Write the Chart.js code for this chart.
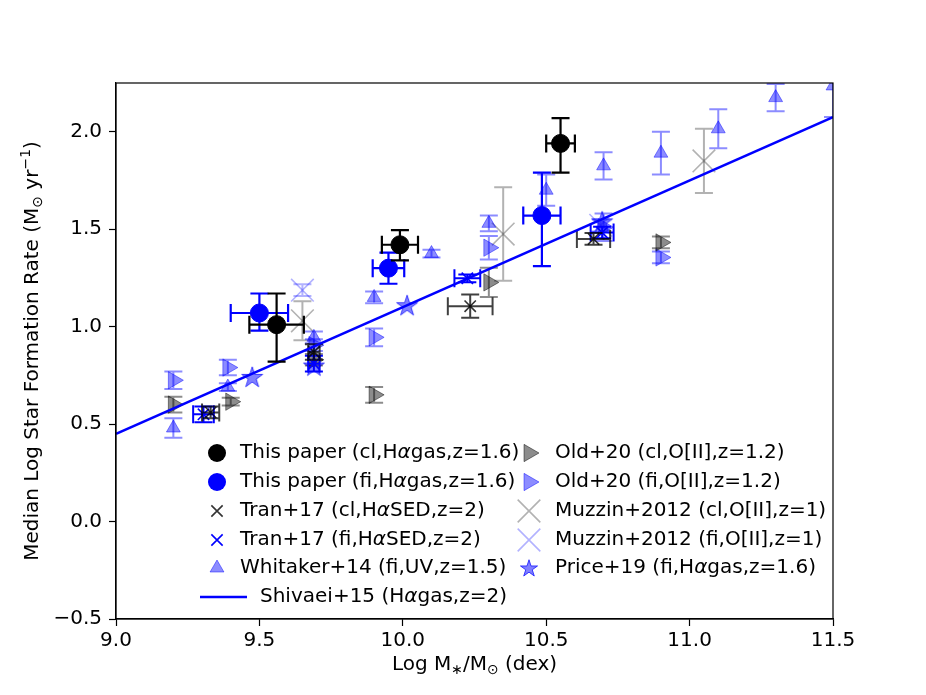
<!DOCTYPE html>
<html><head><meta charset="utf-8">
<script src="https://cdn.jsdelivr.net/npm/chart.js@4.4.1/dist/chart.umd.min.js"></script>
<style>html,body{margin:0;padding:0;background:#fff;overflow:hidden}</style>
</head><body>
<canvas id="c" width="926" height="695"></canvas>
<script>
// ---------------- data ----------------
const xTicks = [9.0, 9.5, 10.0, 10.5, 11.0, 11.5];
const yTicks = [-0.5, 0.0, 0.5, 1.0, 1.5, 2.0];

const paperClX = [9.56, 9.99, 10.55];
const paperClY = [1.01, 1.42, 1.94];
const paperClXErr = [0.095, 0.063, 0.05];
const paperClYErrLo = [0.19, 0.08, 0.15];
const paperClYErrHi = [0.16, 0.075, 0.13];

const paperFiX = [9.50, 9.95, 10.485];
const paperFiY = [1.07, 1.30, 1.57];
const paperFiXErr = [0.10, 0.055, 0.065];
const paperFiYErrLo = [0.09, 0.08, 0.26];
const paperFiYErrHi = [0.10, 0.08, 0.22];

const tranClX = [9.33, 9.69, 10.235, 10.665];
const tranClY = [0.56, 0.87, 1.105, 1.45];
const tranClXErr = [0.03, 0.02, 0.078, 0.058];
const tranClYErr = [0.03, 0.04, 0.06, 0.03];

const tranFiX = [9.305, 9.69, 10.225, 10.695];
const tranFiY = [0.55, 0.81, 1.248, 1.483];
const tranFiXErr = [0.036, 0.02, 0.045, 0.04];
const tranFiYErr = [0.04, 0.04, 0.02, 0.03];

const whitakerX = [9.2, 9.39, 9.69, 9.9, 10.1, 10.3, 10.5, 10.7, 10.9, 11.1, 11.3, 11.5];
const whitakerY = [0.48, 0.69, 0.945, 1.15, 1.375, 1.53, 1.70, 1.825, 1.89, 2.015, 2.175, 2.235];
const whitakerYErr = [0.05, 0.02, 0.03, 0.03, 0.02, 0.04, 0.08, 0.07, 0.11, 0.10, 0.07, 0.16];

const oldClX = [9.2, 9.4, 9.69, 9.9, 10.3, 10.9];
const oldClY = [0.60, 0.615, 0.83, 0.65, 1.227, 1.432];
const oldClYErr = [0.04, 0.02, 0.03, 0.04, 0.075, 0.03];

const oldFiX = [9.2, 9.39, 9.69, 9.9, 10.3, 10.7, 10.9];
const oldFiY = [0.725, 0.79, 0.905, 0.945, 1.405, 1.51, 1.355];
const oldFiYErr = [0.045, 0.04, 0.03, 0.045, 0.06, 0.07, 0.03];

const muzzinClX = [9.65, 10.35, 11.05];
const muzzinClY = [1.03, 1.475, 1.85];
const muzzinClYErr = [0.10, 0.24, 0.165];

const muzzinFiX = [9.65, 10.69];
const muzzinFiY = [1.187, 1.52];
const muzzinFiYErr = [0.03, 0.03];

const priceX = [9.475, 9.69, 10.015, 10.695];
const priceY = [0.742, 0.80, 1.11, 1.54];

const shivaeiX = [9.0, 11.5];
const shivaeiY = [0.45, 2.075];

const legendLeft = [
  'This paper (cl,Hαgas,z=1.6)',
  'This paper (fi,Hαgas,z=1.6)',
  'Tran+17 (cl,HαSED,z=2)',
  'Tran+17 (fi,HαSED,z=2)',
  'Whitaker+14 (fi,UV,z=1.5)',
  'Shivaei+15 (Hαgas,z=2)'
];
const legendRight = [
  'Old+20 (cl,O[II],z=1.2)',
  'Old+20 (fi,O[II],z=1.2)',
  'Muzzin+2012 (cl,O[II],z=1)',
  'Muzzin+2012 (fi,O[II],z=1)',
  'Price+19 (fi,Hαgas,z=1.6)'
];

// axis titles as [text, kind] pieces: n = normal, sub = subscript, sup = superscript
const xTitle = [['Log M', 'n'], ['\u2217', 'sub'], ['/M', 'n'], ['\u2299', 'sub'], [' (dex)', 'n']];
const yTitle = [['Median Log Star Formation Rate (M', 'n'], ['\u2299', 'sub'], [' yr', 'n'], ['\u22121', 'sup'], [')', 'n']];

// ---------------- helpers ----------------
const FONT = "'DejaVu Sans', sans-serif";
const BLUE = '#0000ff';
const pts = (xs, ys) => xs.map((x, i) => ({x: x, y: ys[i]}));

function makeStar(R, color, alpha) {
  const s = Math.ceil(2 * R + 4);
  const path = (g, cx, cy) => {
    const r = R * 0.382;
    g.beginPath();
    for (let k = 0; k < 10; k++) {
      const a = -Math.PI / 2 + k * Math.PI / 5;
      const rr = (k % 2) ? r : R;
      g.lineTo(cx + rr * Math.cos(a), cy + rr * Math.sin(a));
    }
    g.closePath();
  };
  const c = document.createElement('canvas'); c.width = s; c.height = s;
  const h = c.getContext('2d');
  const cx = s / 2, cy = s / 2 + R * 0.08;
  h.globalAlpha = alpha; path(h, cx, cy); h.fillStyle = color; h.fill();
  h.globalAlpha = Math.min(1, alpha + 0.2); path(h, cx, cy);
  h.strokeStyle = color; h.lineWidth = 1; h.stroke();
  return c;
}
const starPlot = makeStar(11, BLUE, 0.5);
const starLegend = makeStar(9, BLUE, 0.5);

// ---------------- datasets ----------------
const datasets = [
  {label: legendLeft[0], data: pts(paperClX, paperClY), order: 0,
   pointStyle: 'circle', pointRadius: 9, backgroundColor: '#000', borderColor: '#000', borderWidth: 1,
   err: {x: paperClXErr, yLo: paperClYErrLo, yHi: paperClYErrHi, color: '#000', width: 2.2, cap: 9}},
  {label: legendLeft[1], data: pts(paperFiX, paperFiY), order: 1,
   pointStyle: 'circle', pointRadius: 9, backgroundColor: BLUE, borderColor: BLUE, borderWidth: 1,
   err: {x: paperFiXErr, yLo: paperFiYErrLo, yHi: paperFiYErrHi, color: BLUE, width: 2.2, cap: 9}},
  {label: legendLeft[5], data: pts(shivaeiX, shivaeiY), order: 2, showLine: true,
   pointRadius: 0, borderColor: BLUE, borderWidth: 2.6, backgroundColor: BLUE},
  {label: legendLeft[2], data: pts(tranClX, tranClY), order: 3,
   pointStyle: 'crossRot', pointRadius: 8, borderColor: 'rgba(0,0,0,0.8)', borderWidth: 1.6, backgroundColor: 'rgba(0,0,0,0.8)',
   err: {x: tranClXErr, yLo: tranClYErr, yHi: tranClYErr, color: 'rgba(0,0,0,0.75)', width: 2, cap: 9}},
  {label: legendLeft[3], data: pts(tranFiX, tranFiY), order: 4,
   pointStyle: 'crossRot', pointRadius: 8, borderColor: BLUE, borderWidth: 1.6, backgroundColor: BLUE,
   err: {x: tranFiXErr, yLo: tranFiYErr, yHi: tranFiYErr, color: BLUE, width: 2, cap: 9}},
  {label: legendLeft[4], data: pts(whitakerX, whitakerY), order: 5,
   pointStyle: 'triangle', pointRadius: 8, backgroundColor: 'rgba(0,0,255,0.45)', borderColor: 'rgba(0,0,255,0.45)', borderWidth: 1,
   err: {yLo: whitakerYErr, yHi: whitakerYErr, color: 'rgba(0,0,255,0.45)', width: 2, cap: 9}},
  {label: legendRight[0], data: pts(oldClX, oldClY), order: 6,
   pointStyle: 'triangle', rotation: 90, pointRadius: 10, backgroundColor: 'rgba(0,0,0,0.45)', borderColor: 'rgba(0,0,0,0.45)', borderWidth: 1,
   err: {yLo: oldClYErr, yHi: oldClYErr, color: 'rgba(0,0,0,0.45)', width: 2, cap: 9}},
  {label: legendRight[1], data: pts(oldFiX, oldFiY), order: 7,
   pointStyle: 'triangle', rotation: 90, pointRadius: 10, backgroundColor: 'rgba(0,0,255,0.45)', borderColor: 'rgba(0,0,255,0.45)', borderWidth: 1,
   err: {yLo: oldFiYErr, yHi: oldFiYErr, color: 'rgba(0,0,255,0.45)', width: 2, cap: 9}},
  {label: legendRight[2], data: pts(muzzinClX, muzzinClY), order: 8,
   pointStyle: 'crossRot', pointRadius: 16, borderColor: 'rgba(0,0,0,0.3)', borderWidth: 1.6, backgroundColor: 'rgba(0,0,0,0.3)',
   err: {yLo: muzzinClYErr, yHi: muzzinClYErr, color: 'rgba(0,0,0,0.3)', width: 2, cap: 9}},
  {label: legendRight[3], data: pts(muzzinFiX, muzzinFiY), order: 9,
   pointStyle: 'crossRot', pointRadius: 16, borderColor: 'rgba(0,0,255,0.3)', borderWidth: 1.6, backgroundColor: 'rgba(0,0,255,0.3)',
   err: {yLo: muzzinFiYErr, yHi: muzzinFiYErr, color: 'rgba(0,0,255,0.3)', width: 2, cap: 9}},
  {label: legendRight[4], data: pts(priceX, priceY), order: 10,
   pointStyle: starPlot, pointRadius: 11, backgroundColor: BLUE, borderColor: BLUE}
];

// ---------------- plugins ----------------
const errPlugin = {
  id: 'errbars',
  beforeDatasetDraw(chart, args) {
    const ds = chart.data.datasets[args.index];
    if (!ds.err) return;
    const e = ds.err, ctx = chart.ctx, a = chart.chartArea;
    const xs = chart.scales.x, ys = chart.scales.y;
    ctx.save();
    ctx.beginPath(); ctx.rect(a.left, a.top, a.right - a.left, a.bottom - a.top); ctx.clip();
    ctx.strokeStyle = e.color; ctx.lineWidth = e.width; ctx.lineCap = 'butt';
    ctx.beginPath();
    ds.data.forEach((p, i) => {
      const px = xs.getPixelForValue(p.x), py = ys.getPixelForValue(p.y);
      if (e.x) {
        const l = xs.getPixelForValue(p.x - e.x[i]), r = xs.getPixelForValue(p.x + e.x[i]);
        ctx.moveTo(l, py); ctx.lineTo(r, py);
        ctx.moveTo(l, py - e.cap); ctx.lineTo(l, py + e.cap);
        ctx.moveTo(r, py - e.cap); ctx.lineTo(r, py + e.cap);
      }
      if (e.yLo) {
        const t = ys.getPixelForValue(p.y + e.yHi[i]), b = ys.getPixelForValue(p.y - e.yLo[i]);
        ctx.moveTo(px, t); ctx.lineTo(px, b);
        ctx.moveTo(px - e.cap, t); ctx.lineTo(px + e.cap, t);
        ctx.moveTo(px - e.cap, b); ctx.lineTo(px + e.cap, b);
      }
    });
    ctx.stroke();
    ctx.restore();
  }
};

function drawRich(ctx, text, x, y) {
  const parts = text.split('α');
  let cx = x;
  parts.forEach((s, i) => {
    ctx.font = '20px ' + FONT;
    ctx.fillText(s, cx, y); cx += ctx.measureText(s).width;
    if (i < parts.length - 1) {
      ctx.font = 'oblique 20px ' + FONT;
      ctx.fillText('α', cx, y); cx += ctx.measureText('α').width;
    }
  });
}

function pieceFont(kind) { return (kind === 'n' ? '20px ' : '14px ') + FONT; }
function pieceDy(kind) { return kind === 'sub' ? 5 : (kind === 'sup' ? -7 : 0); }
function drawTitle(ctx, pieces, cx, cy, rot) {
  ctx.save();
  ctx.translate(cx, cy); ctx.rotate(rot);
  ctx.textBaseline = 'middle'; ctx.textAlign = 'left'; ctx.fillStyle = '#000';
  let w = 0;
  pieces.forEach(p => { ctx.font = pieceFont(p[1]); w += ctx.measureText(p[0]).width; });
  let x = -w / 2;
  pieces.forEach(p => {
    ctx.font = pieceFont(p[1]);
    ctx.fillText(p[0], x, pieceDy(p[1]));
    x += ctx.measureText(p[0]).width;
  });
  ctx.restore();
}

function drawLegendMarker(ctx, ds, x, y) {
  ctx.save();
  ctx.fillStyle = ds.backgroundColor; ctx.strokeStyle = ds.borderColor;
  ctx.lineWidth = ds.borderWidth || 1;
  const st = ds.pointStyle, r = ds.pointRadius;
  if (ds.showLine) {
    ctx.beginPath(); ctx.moveTo(200, y); ctx.lineTo(247, y); ctx.stroke();
  } else if (st === 'circle') {
    ctx.beginPath(); ctx.arc(x, y, r, 0, 2 * Math.PI); ctx.fill();
  } else if (st === 'crossRot') {
    const d = r * Math.SQRT1_2;
    ctx.beginPath();
    ctx.moveTo(x - d, y - d); ctx.lineTo(x + d, y + d);
    ctx.moveTo(x + d, y - d); ctx.lineTo(x - d, y + d);
    ctx.stroke();
  } else if (st === 'triangle') {
    let rad = (ds.rotation || 0) * Math.PI / 180;
    ctx.beginPath();
    for (let k = 0; k < 3; k++) {
      ctx.lineTo(x + Math.sin(rad) * r, y - Math.cos(rad) * r);
      rad += 2 * Math.PI / 3;
    }
    ctx.closePath(); ctx.fill(); ctx.stroke();
  } else {
    ctx.drawImage(starLegend, x - starLegend.width / 2, y - starLegend.height / 2);
  }
  ctx.restore();
}

const legendPlugin = {
  id: 'customLegend',
  afterDraw(chart) {
    const ctx = chart.ctx;
    const rows = [453, 482, 511, 540, 568, 597];
    const leftOrder = [0, 1, 3, 4, 5, 2];
    const rightOrder = [6, 7, 8, 9, 10];
    ctx.save();
    ctx.textBaseline = 'middle'; ctx.textAlign = 'left'; ctx.fillStyle = '#000';
    leftOrder.forEach((di, k) => {
      const ds = chart.data.datasets[di];
      drawLegendMarker(ctx, ds, 217, rows[k]);
      ctx.fillStyle = '#000';
      drawRich(ctx, ds.label, ds.showLine ? 260 : 240, rows[k]);
    });
    rightOrder.forEach((di, k) => {
      const ds = chart.data.datasets[di];
      drawLegendMarker(ctx, ds, 529, rows[k]);
      ctx.fillStyle = '#000';
      drawRich(ctx, ds.label, 555, rows[k]);
    });
    ctx.restore();
    const a = chart.chartArea;
    drawTitle(ctx, xTitle, (a.left + a.right) / 2, 665, 0);
    drawTitle(ctx, yTitle, 33, (a.top + a.bottom) / 2, -Math.PI / 2);
  }
};

const framePlugin = {
  id: 'frame',
  afterDatasetsDraw(chart) {
    const a = chart.chartArea, ctx = chart.ctx;
    ctx.save();
    ctx.strokeStyle = '#000'; ctx.lineWidth = 1.2;
    ctx.strokeRect(a.left, a.top, a.right - a.left, a.bottom - a.top);
    ctx.restore();
  }
};

const fmt = v => (v < 0 ? '\u2212' : '') + Math.abs(v).toFixed(1);

new Chart(document.getElementById('c'), {
  type: 'scatter',
  data: {datasets: datasets},
  plugins: [errPlugin, framePlugin, legendPlugin],
  options: {
    responsive: false,
    devicePixelRatio: 1,
    animation: false,
    events: [],
    layout: {padding: {left: 0, top: 83, right: 93, bottom: 0}},
    plugins: {legend: {display: false}, tooltip: {enabled: false}},
    scales: {
      x: {
        type: 'linear', position: 'bottom', min: 9.0, max: 11.5,
        afterBuildTicks: s => { s.ticks = xTicks.map(v => ({value: v})); },
        afterFit: s => { s.height = 695 - 619; },
        grid: {drawOnChartArea: false, drawTicks: true, tickLength: 7, tickColor: '#000', tickWidth: 1.2},
        border: {display: true, color: '#000', width: 1.2},
        ticks: {color: '#000', font: {family: FONT, size: 20}, padding: 3, maxRotation: 0,
                callback: v => fmt(v)},
        title: {display: false}
      },
      y: {
        type: 'linear', position: 'left', min: -0.5, max: 2.25,
        afterBuildTicks: s => { s.ticks = yTicks.map(v => ({value: v})); },
        afterFit: s => { s.width = 116; },
        grid: {drawOnChartArea: false, drawTicks: true, tickLength: 7, tickColor: '#000', tickWidth: 1.2},
        border: {display: true, color: '#000', width: 1.2},
        ticks: {color: '#000', font: {family: FONT, size: 20}, padding: 7,
                callback: v => fmt(v)},
        title: {display: false}
      }
    }
  }
});
</script>
</body></html>
